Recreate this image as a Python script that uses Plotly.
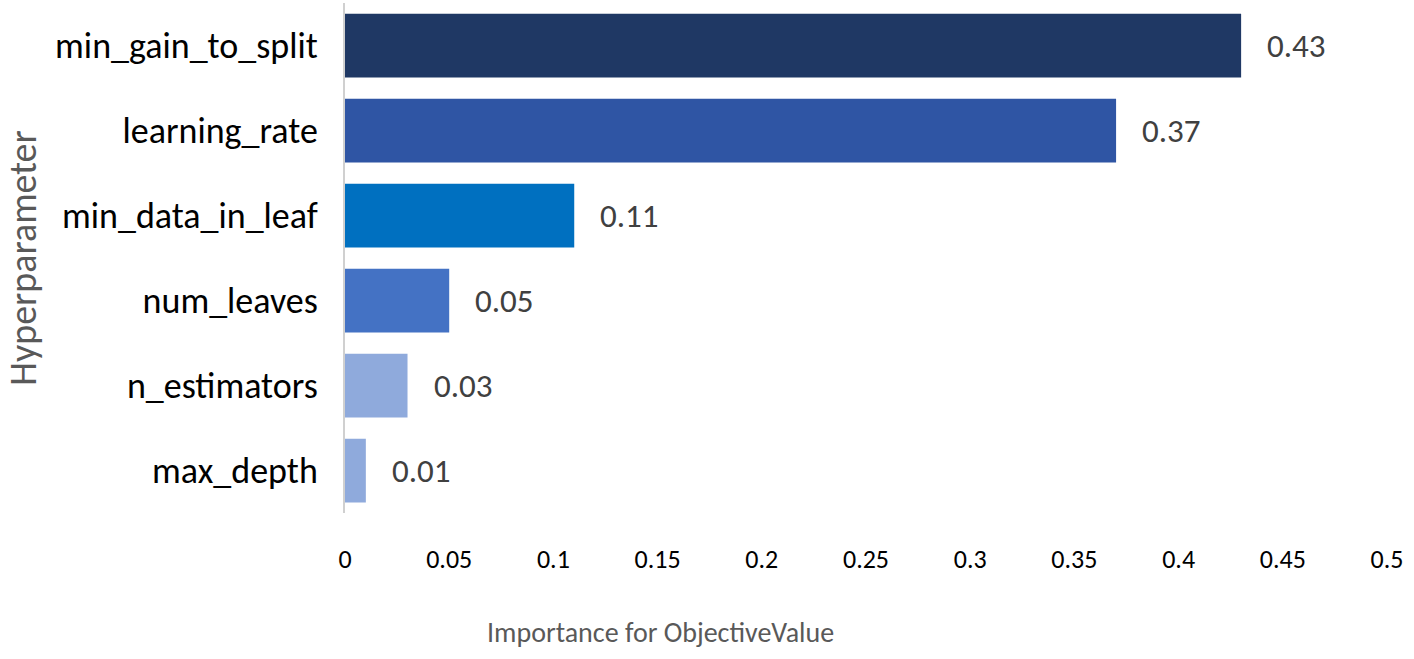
import plotly.graph_objects as go

# hyperparameter importance, listed bottom to top as plotted
params = ["max_depth", "n_estimators", "num_leaves", "min_data_in_leaf", "learning_rate", "min_gain_to_split"]
importance = [0.01, 0.03, 0.05, 0.11, 0.37, 0.43]
bar_colors = ["#8FAADC", "#8FAADC", "#4472C4", "#0070C0", "#2F55A4", "#1F3864"]
x_ticks = [0, 0.05, 0.1, 0.15, 0.2, 0.25, 0.3, 0.35, 0.4, 0.45, 0.5]

FONT = "Carlito, Lato, 'Open Sans', sans-serif"

fig = go.Figure(
    go.Bar(
        y=params,
        x=importance,
        orientation="h",
        marker=dict(color=bar_colors, line=dict(width=0)),
        width=0.75,
        hoverinfo="x+y",
    )
)

# value labels, pushed a bit away from the bar ends
for p, v in zip(params, importance):
    fig.add_annotation(
        x=v, y=p, text=f"{v:g}", showarrow=False,
        xanchor="left", xshift=24,
        font=dict(size=33, color="#404040", family=FONT),
    )

# x title sits left of the plot centre in the original
fig.add_annotation(
    text="Importance for ObjectiveValue", xref="paper", yref="paper",
    x=0.303, y=0, yshift=-119, xanchor="center", yanchor="middle", showarrow=False,
    font=dict(size=28, color="#595959", family=FONT),
)

fig.update_xaxes(
    range=[0, 0.5],
    tickvals=x_ticks,
    ticktext=[f"{t:g}" for t in x_ticks],
    tickfont=dict(size=26, color="#000000", family=FONT),
    showgrid=False,
    zeroline=False,
    showline=False,
    ticks="",
    ticklabelstandoff=28,
    automargin=False,
)
fig.update_yaxes(
    showgrid=False,
    zeroline=False,
    showline=True,
    linecolor="#D0D0D0",
    linewidth=2,
    ticks="",
    ticklabelstandoff=18,
    automargin=False,
    tickfont=dict(size=36, color="#000000", family=FONT),
    title=dict(text="Hyperparameter", font=dict(size=38, color="#595959", family=FONT), standoff=14),
)

fig.update_layout(
    width=1414,
    height=659,
    margin=dict(l=345, r=27, t=3, b=146),
    plot_bgcolor="white",
    paper_bgcolor="white",
    showlegend=False,
    bargap=0.25,
)

fig.write_html(
    "out.html",
    config={"displayModeBar": False},
    post_script="document.body.style.margin='0';",
)
